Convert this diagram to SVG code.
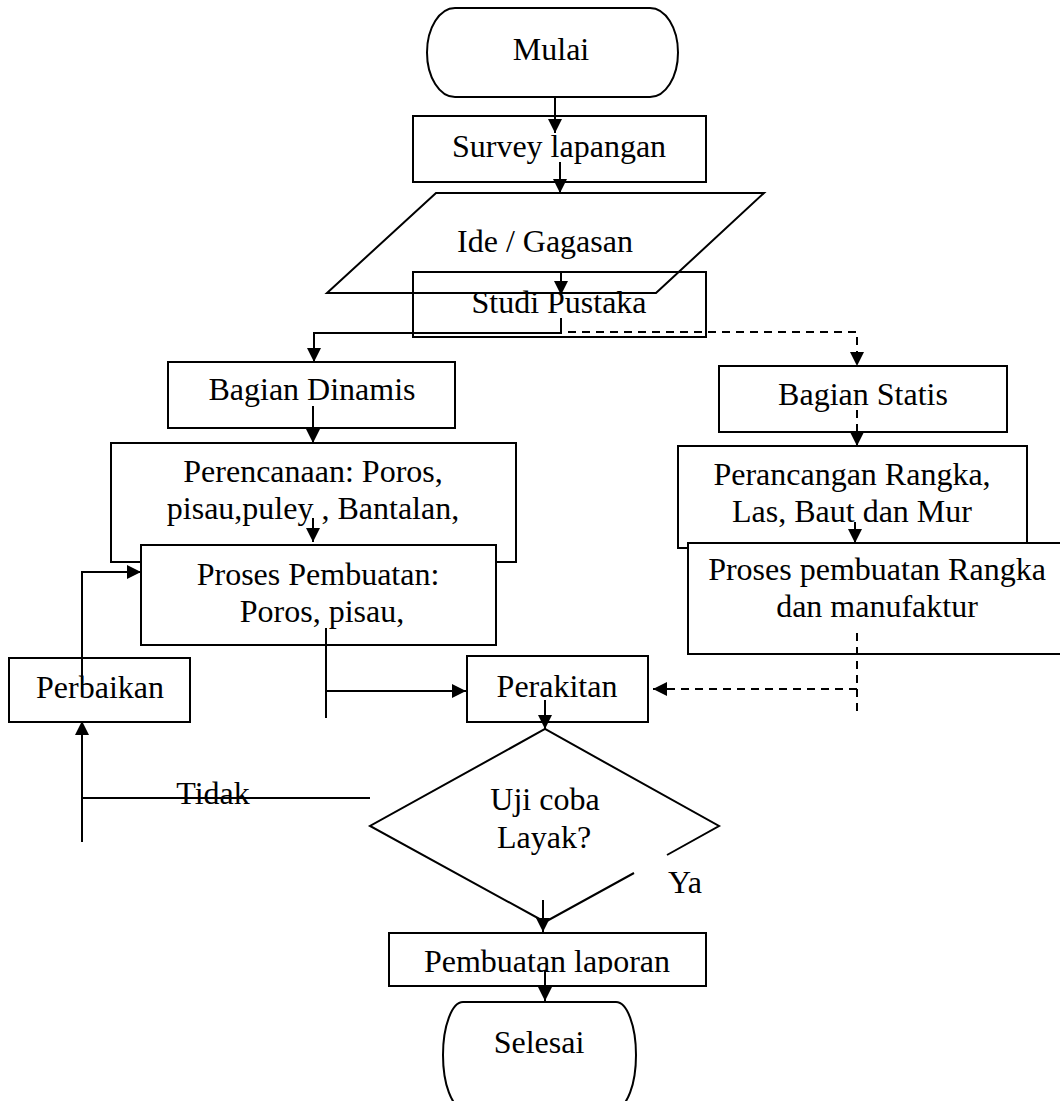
<svg xmlns="http://www.w3.org/2000/svg" width="1060" height="1101" viewBox="0 0 1060 1101">
<style>
.s{fill:none;stroke:#000;stroke-width:2}
.w{fill:#fff;stroke:#000;stroke-width:2}
.t{font-family:"Liberation Serif","Times New Roman",serif;font-size:32px;fill:#000;text-anchor:middle}
.c{fill:none;stroke:#000;stroke-width:2}
.d{fill:none;stroke:#000;stroke-width:2;stroke-dasharray:8 6}
</style>
<defs>
<marker id="a" markerWidth="14" markerHeight="14" refX="14" refY="7" orient="auto" markerUnits="userSpaceOnUse">
<path d="M0,0 L14,7 L0,14 Z" fill="#000"/>
</marker>
<clipPath id="clipLap"><rect x="380" y="930" width="340" height="44"/></clipPath>
</defs>
<g id="mulai"><rect class="s" x="427" y="8" width="251" height="89" rx="28" ry="44.5"/><text class="t" x="551" y="60">Mulai</text></g>
<g id="survey"><rect class="s" x="413" y="116" width="293" height="66"/><text class="t" x="559" y="157">Survey lapangan</text></g>
<g id="ide"><text class="t" x="545" y="252">Ide / Gagasan</text></g>
<g id="studi"><rect class="s" x="413" y="272" width="293" height="65"/><text class="t" x="559" y="313">Studi Pustaka</text></g>
<g id="ide-shape"><polygon class="s" points="436,193 764,193 656,293 327,293"/></g>
<g id="dinamis"><rect class="s" x="168" y="362" width="287" height="66"/><text class="t" x="312" y="400">Bagian Dinamis</text></g>
<g id="statis"><rect class="s" x="719" y="366" width="288" height="66"/><text class="t" x="863" y="405">Bagian Statis</text></g>
<g id="perencanaan"><rect class="w" x="111" y="443" width="405" height="119"/><text class="t" x="313" y="482">Perencanaan: Poros,</text><text class="t" x="313" y="519">pisau,puley , Bantalan,</text></g>
<g id="proses-dinamis"><rect class="w" x="141" y="545" width="355" height="100"/><text class="t" x="318" y="585">Proses Pembuatan:</text><text class="t" x="322" y="622">Poros, pisau,</text></g>
<g id="perancangan"><rect class="w" x="678" y="446" width="349" height="102"/><text class="t" x="852" y="485">Perancangan Rangka,</text><text class="t" x="852" y="522">Las, Baut dan Mur</text></g>
<g id="proses-rangka"><rect class="w" x="688" y="543" width="390" height="111"/><text class="t" x="877" y="580">Proses pembuatan Rangka</text><text class="t" x="877" y="617">dan manufaktur</text></g>
<g id="perbaikan"><rect class="s" x="9" y="658" width="181" height="64"/><text class="t" x="100" y="698">Perbaikan</text></g>
<g id="perakitan"><rect class="s" x="467" y="656" width="181" height="66"/><text class="t" x="557" y="697">Perakitan</text></g>
<g id="uji"><path class="s" d="M667,855 L719,826 L545,729 L370,826 L545,922 L634,873"/><text class="t" x="545" y="810">Uji coba</text><text class="t" x="544" y="848">Layak?</text></g>
<g id="laporan"><rect class="s" x="389" y="933" width="317" height="53"/><text class="t" x="547" y="972" clip-path="url(#clipLap)">Pembuatan laporan</text></g>
<g id="selesai"><rect class="s" x="443" y="1002" width="193" height="106" rx="20" ry="53"/><text class="t" x="539" y="1053">Selesai</text></g>
<g id="connectors">
<path class="c" d="M555,97 V133" marker-end="url(#a)"/>
<path class="c" d="M560,162 V193" marker-end="url(#a)"/>
<path class="c" d="M561,273 V295" marker-end="url(#a)"/>
<path class="c" d="M561,318 V333 H314 V362" marker-end="url(#a)"/>
<path class="d" d="M568,332 H857 V366" marker-end="url(#a)"/>
<path class="c" d="M313,406 V443" marker-end="url(#a)"/>
<path class="c" d="M313,518 V542" marker-end="url(#a)"/>
<path class="d" d="M857,410 V446" marker-end="url(#a)"/>
<path class="c" d="M855,522 V543" marker-end="url(#a)"/>
<path class="c" d="M326,628 V718"/>
<path class="c" d="M326,691 H466" marker-end="url(#a)"/>
<path class="d" d="M857,633 V712"/>
<path class="d" d="M857,689 H653" marker-end="url(#a)"/>
<path class="c" d="M82,690 V572 H141" marker-end="url(#a)"/>
<path class="c" d="M370,798 H82"/>
<path class="c" d="M82,842 V721" marker-end="url(#a)"/>
<text class="t" x="213" y="804">Tidak</text>
<path class="c" d="M545,700 V729" marker-end="url(#a)"/>
<text class="t" x="685" y="893">Ya</text>
<path class="c" d="M543,900 V932" marker-end="url(#a)"/>
<path class="c" d="M545,970 V1001" marker-end="url(#a)"/>
</g>
</svg>
